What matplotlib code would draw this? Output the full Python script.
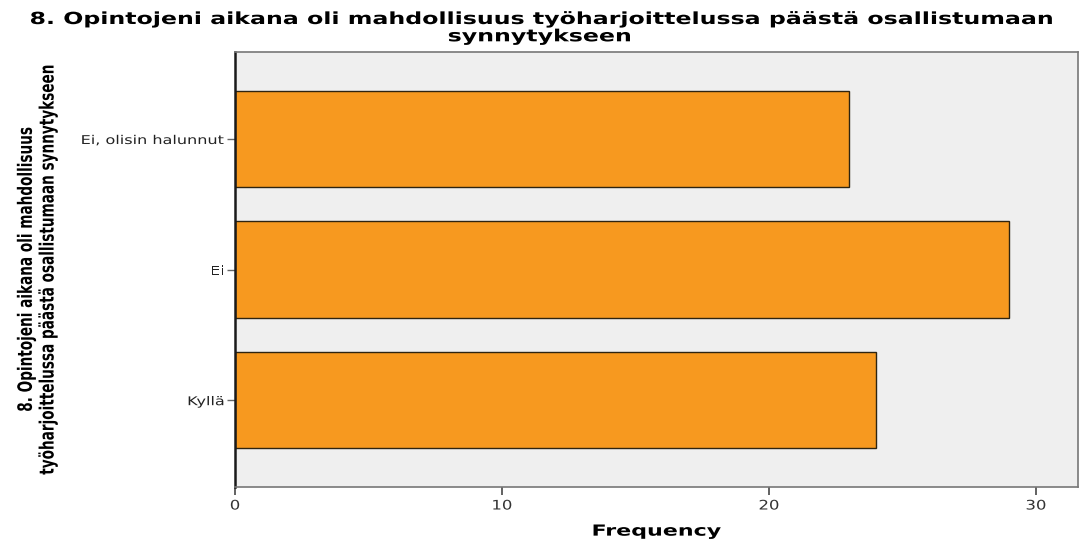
import matplotlib
matplotlib.use("Agg")
import matplotlib.pyplot as plt
from matplotlib.patheffects import AbstractPathEffect
from matplotlib.transforms import Affine2D

categories = ["Kyllä", "Ei", "Ei, olisin halunnut"]
frequencies = [24, 29, 23]
x_ticks = [0, 10, 20, 30]

title = "8. Opintojeni aikana oli mahdollisuus työharjoittelussa päästä osallistumaan\nsynnytykseen"
y_label = "8. Opintojeni aikana oli mahdollisuus\ntyöharjoittelussa päästä osallistumaan synnytykseen"
x_label = "Frequency"


class HStretch(AbstractPathEffect):
    """Widen glyphs horizontally around a chosen anchor of each text line."""

    def __init__(self, sx, anchor="center"):
        super().__init__()
        self.sx = sx
        self.anchor = anchor

    def draw_path(self, renderer, gc, tpath, affine, rgbFace=None):
        ext = tpath.get_extents(affine)
        if self.anchor == "right":
            cx = ext.x1
        elif self.anchor == "left":
            cx = ext.x0
        else:
            cx = 0.5 * (ext.x0 + ext.x1)
        new_affine = affine + Affine2D().translate(-cx, 0).scale(self.sx, 1.0).translate(cx, 0)
        renderer.draw_path(gc, tpath, new_affine, rgbFace)


fig = plt.figure(figsize=(10.79, 5.43), dpi=100)
ax = fig.add_axes([0.2178, 0.1031, 0.7812, 0.8009])
ax.set_facecolor("#efefef")

pos = list(range(len(categories)))
ax.barh(pos, frequencies, height=0.74, color="#f7991f", edgecolor="#2e2410", linewidth=1.0)

ax.set_xlim(0, 31.57)
ax.set_ylim(-0.665, 2.665)
ax.set_xticks(x_ticks)
ax.set_xticklabels([str(t) for t in x_ticks], fontsize=9.5, color="#333333",
                   path_effects=[HStretch(1.25)])
ax.set_yticks(pos)
ax.set_yticklabels(categories, fontsize=8.7, color="#222222",
                   path_effects=[HStretch(1.33, anchor="right")])
ax.tick_params(axis="x", direction="out", length=6, width=1.3, color="#555555", pad=3)
ax.tick_params(axis="y", direction="out", length=6, width=1.0, color="#666666", pad=1.5)

for side in ["top", "right", "bottom"]:
    ax.spines[side].set_color("#777777")
    ax.spines[side].set_linewidth(1.2)
ax.spines["left"].set_color("#1a1a1a")
ax.spines["left"].set_linewidth(1.8)

ax.set_xlabel(x_label, fontsize=11, fontweight="bold", labelpad=8,
              path_effects=[HStretch(1.45)])

fig.text(0.5, 1 - 10 / 543, title, ha="center", va="top", fontsize=12, fontweight="bold",
         linespacing=0.95, path_effects=[HStretch(1.42)])

fig.text(37 / 1079, 1 - 269 / 543, y_label, ha="center", va="center", rotation=90,
         fontsize=9.8, fontweight="bold", linespacing=1.7,
         path_effects=[HStretch(1.45)])

fig.savefig("out.png", dpi=100)
